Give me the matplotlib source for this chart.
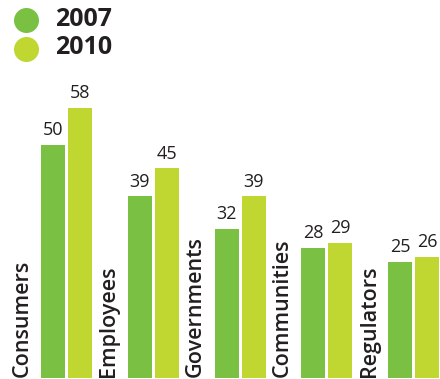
import numpy as np
import matplotlib
matplotlib.use('Agg')
import matplotlib.pyplot as plt

# data
categories = ['Consumers', 'Employees', 'Governments', 'Communities', 'Regulators']
vals2007 = [50, 39, 32, 28, 25]
vals2010 = [58, 45, 39, 29, 26]
years = ['2007', '2010']

green = '#7ac143'
lime = '#bfd730'
txt = '#231f20'

plt.rcParams['font.family'] = ['Open Sans', 'DejaVu Sans']

W, H = 440, 379
fig = plt.figure(figsize=(W / 100, H / 100), dpi=100)
ax = fig.add_axes([0, 1 / H, 1, 378 / H])

step = 86.75   # px between groups
x0 = 66.5      # px centre of first pair
ax.set_xlim(-x0 / step, (W - x0) / step)
ax.set_ylim(0, 378 / 4.66)
ax.axis('off')

x = np.arange(len(categories))
bw = 24 / step
off = 13.5 / step
b1 = ax.bar(x - off, vals2007, width=bw, color=green)
b2 = ax.bar(x + off, vals2010, width=bw, color=lime)

for bars, vals in ((b1, vals2007), (b2, vals2010)):
    for b, v in zip(bars, vals):
        ax.annotate(str(v), (b.get_x() + b.get_width() / 2, v),
                    xytext=(0, 4), textcoords='offset points',
                    ha='center', va='bottom', fontsize=13, color=txt)

for i, c in enumerate(categories):
    ax.text(i - (x0 - 22) / step, 0.3, c, rotation=90, ha='center', va='bottom',
            fontsize=15.5, fontweight='semibold', color=txt)

# legend drawn by hand
for yy, col, lab in ((H - 20, green, years[0]), (H - 49, lime, years[1])):
    ax.plot([25.5 / W], [yy / H], 'o', ms=18, color=col, mec='none',
            transform=fig.transFigure, clip_on=False)
    fig.text(55 / W, (yy + 1) / H, lab, fontsize=18, fontweight='bold',
             color=txt, va='center', ha='left')

fig.savefig('out.png', dpi=100)
